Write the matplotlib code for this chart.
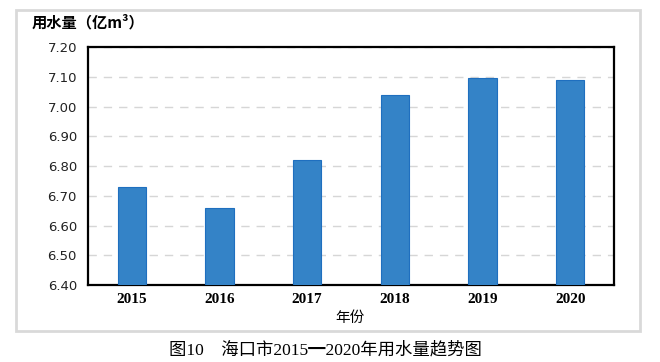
import matplotlib
matplotlib.use("Agg")
import matplotlib.pyplot as plt
from matplotlib.patches import Rectangle

# water use data
years = ["2015", "2016", "2017", "2018", "2019", "2020"]
usage = [6.73, 6.66, 6.82, 7.04, 7.096, 7.09]
yticks = [6.40, 6.50, 6.60, 6.70, 6.80, 6.90, 7.00, 7.10, 7.20]

cjk = ["Noto Sans CJK SC", "DejaVu Sans"]
serif_cjk = ["Liberation Serif", "Noto Sans CJK SC"]

fig = plt.figure(figsize=(6.6, 3.62), dpi=100)

# outer grey frame around the chart
frame = Rectangle((16 / 660, 1 - 331 / 362), 624 / 660, 321 / 362,
                  transform=fig.transFigure, fill=False,
                  edgecolor="#d9d9d9", linewidth=2.0)
fig.patches.append(frame)

ax = fig.add_axes([88 / 660, 1 - 285 / 362, 526 / 660, 238 / 362])
x = [i + 0.5 for i in range(len(years))]
ax.bar(x, usage, width=0.32, bottom=0, color="#3483c7",
       edgecolor="#1f6fbf", linewidth=0.8, zorder=3)

ax.set_xlim(0, 6)
ax.set_ylim(6.40, 7.20)
ax.set_yticks(yticks)
ax.set_yticklabels(["%.2f" % v for v in yticks], fontsize=9.5,
                   family="DejaVu Sans", color="#222222")
ax.set_xticks(x)
ax.set_xticklabels(years, fontsize=11, family="Liberation Serif",
                   fontweight="bold")
ax.tick_params(axis="both", length=0, pad=8)
ax.tick_params(axis="x", pad=6)

ax.grid(axis="y", linestyle=(0, (6, 5)), color="#d6d6d6", linewidth=1.0, zorder=0)
for s in ax.spines.values():
    s.set_linewidth(1.6)
    s.set_color("black")

fig.text(32 / 660, 1 - 22 / 362, "用水量（亿m³）", family=cjk, fontsize=11,
         fontweight="bold", va="center", ha="left")
fig.text(350 / 660, 1 - 318 / 362, "年份", family=cjk, fontsize=10.5,
         va="center", ha="center")
fig.text(325 / 660, 1 - 350 / 362, "图10    海口市2015━2020年用水量趋势图",
         family=serif_cjk, fontsize=12.5, va="center", ha="center")

fig.savefig("out.png", dpi=100)
